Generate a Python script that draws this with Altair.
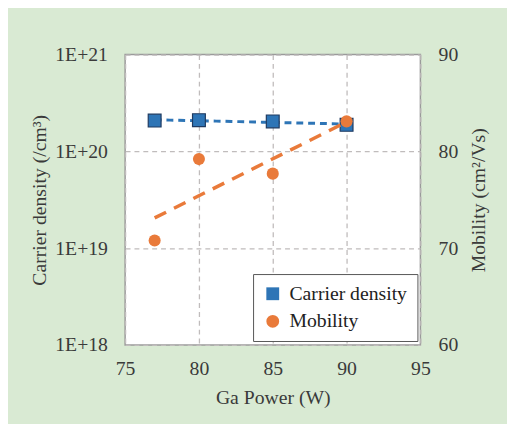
import altair as alt
import pandas as pd

power = [77, 80, 85, 90]
carrier_density = [2.08e20, 2.10e20, 2.04e20, 1.88e20]
mobility = [70.8, 79.2, 77.7, 83.1]
series_names = ["Carrier density", "Mobility"]
x_ticks = [75, 80, 85, 90, 95]
left_ticks = [1e18, 1e19, 1e20, 1e21]
right_ticks = [60, 70, 80, 90]

BLUE = "#2e75b6"
ORANGE = "#e97a3a"
FONT = "Liberation Serif"
TXT = "#3a3a3a"
FS = 20

cd = pd.DataFrame({"power": power, "value": carrier_density, "series": series_names[0]})
mb = pd.DataFrame({"power": power, "value": mobility, "series": series_names[1]})

x_enc = alt.X(
    "power:Q",
    scale=alt.Scale(domain=[75, 95], nice=False, zero=False),
    axis=alt.Axis(values=x_ticks, title="Ga Power (W)", grid=True, labelPadding=14, titlePadding=10,
                  labelFlush=False,
                  labelFont=FONT, titleFont=FONT, labelFontSize=FS, titleFontSize=FS),
)

color = alt.Color(
    "series:N",
    scale=alt.Scale(domain=series_names, range=[BLUE, ORANGE]),
    legend=alt.Legend(
        title=None, orient="none", legendX=130, legendY=223,
        strokeColor="#555555", fillColor="white", padding=10,
        labelFont=FONT, labelFontSize=FS, labelColor="#222222",
        symbolSize=170, rowPadding=8, labelOffset=7, symbolStrokeWidth=0,
    ),
)
shape = alt.Shape(
    "series:N",
    scale=alt.Scale(domain=series_names, range=["square", "circle"]),
    legend=alt.Legend(title=None, labelFont=FONT, labelFontSize=FS),
)

y_left = alt.Y(
    "value:Q",
    scale=alt.Scale(type="log", domain=[1e18, 1e21], nice=False),
    axis=alt.Axis(
        orient="left", values=left_ticks, title="Carrier density (/cm³)",
        labelExpr="'1E+' + round(log(datum.value) / LN10)", grid=True,
        labelPadding=18, titlePadding=5,
        labelFont=FONT, titleFont=FONT, labelFontSize=FS, titleFontSize=FS,
    ),
)
y_right = alt.Y(
    "value:Q",
    scale=alt.Scale(domain=[60, 90], nice=False, zero=False),
    axis=alt.Axis(
        orient="right", values=right_ticks, title="Mobility (cm²/Vs)",
        grid=False, labelPadding=18, titlePadding=11, titleAngle=270, titleBaseline="top",
        labelFont=FONT, titleFont=FONT, labelFontSize=FS, titleFontSize=FS,
    ),
)

cd_line = alt.Chart(cd).transform_regression(
    "power", "value", method="exp"
).mark_line(color=BLUE, strokeWidth=3, strokeDash=[7, 5]).encode(x=x_enc, y=y_left)

cd_pts = alt.Chart(cd).mark_point(
    filled=True, size=170, opacity=1, stroke="#1f3a60", strokeWidth=1.2
).encode(x=x_enc, y=y_left, color=color, shape=shape)

mb_line = alt.Chart(mb).transform_regression(
    "power", "value", method="linear"
).mark_line(color=ORANGE, strokeWidth=3.5, strokeDash=[13, 9]).encode(x=x_enc, y=y_right)

mb_pts = alt.Chart(mb).mark_point(
    filled=True, size=150, opacity=1
).encode(x=x_enc, y=y_right, color=color, shape=shape)

left = alt.layer(cd_line, cd_pts)
right = alt.layer(mb_line, mb_pts)

chart = alt.layer(left, right).resolve_scale(y="independent").properties(
    width=300, height=295,
    background="#d9ead3",
    padding={"left": 119, "top": 44, "right": 88, "bottom": 77},
    autosize=alt.AutoSizeParams(type="none"),
).configure(
    font=FONT,
).configure_view(
    stroke="#9a9a9a", strokeWidth=1.5, fill="white"
).configure_axis(
    labelFont=FONT, titleFont=FONT, labelFontSize=FS, titleFontSize=FS,
    labelColor=TXT, titleColor=TXT, titleFontWeight="normal",
    ticks=False, domain=False,
    gridColor="#c0bcbc", gridDash=[5, 4], gridWidth=1.3,
).configure_legend(
    labelFont=FONT, labelFontSize=FS,
)

chart.save("out.html", embed_options={"renderer": "svg", "actions": False})
